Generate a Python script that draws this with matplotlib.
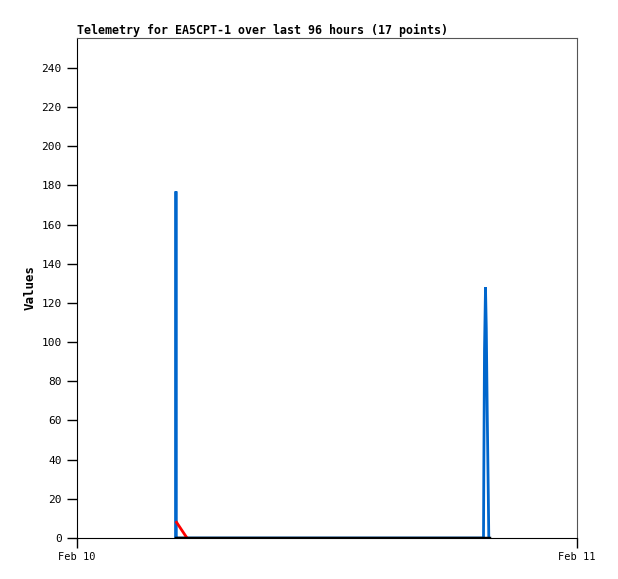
import matplotlib
matplotlib.use("Agg")
import matplotlib.pyplot as plt

# hours since Feb 10 00:00
blue_t = [4.74, 4.75, 4.76, 19.512, 19.526, 19.56, 19.608, 19.646, 19.69, 19.742, 19.766]
blue_v = [0, 177, 0, 0, 32, 96, 128, 107, 65, 22, 0]
red_t = [4.78, 5.28]
red_v = [8, 0]
black_t = [4.75, 19.77]
black_v = [0, 0]
xtick_pos = [0, 24]
xtick_labels = ["Feb 10", "Feb 11"]
ytick_vals = [0, 20, 40, 60, 80, 100, 120, 140, 160, 180, 200, 220, 240]

plt.rcParams['font.family'] = ['DejaVu Sans Mono']
fig = plt.figure(figsize=(6.18, 5.79), dpi=100)
ax = fig.add_axes([77/618, 41/579, 500/618, 500/579])
ax.plot(blue_t, blue_v, color='#0066cc', lw=2, solid_joinstyle='miter')
ax.plot(red_t, red_v, color='#ff0000', lw=2)
ax.plot(black_t, black_v, color='#000000', lw=2.5)
ax.set_xlim(0, 24)
ax.set_ylim(0, 255.3)
ax.set_xticks(xtick_pos)
ax.set_xticklabels(xtick_labels, fontsize=7.5)
ax.set_yticks(ytick_vals)
ax.set_yticklabels([str(v) for v in ytick_vals], fontsize=8)
ax.tick_params(axis='y', length=7, width=1, pad=4, color='black')
ax.tick_params(axis='x', length=7, width=1, pad=3, color='black')
for s in ['left', 'bottom']:
    ax.spines[s].set_color('black')
for s in ['top', 'right']:
    ax.spines[s].set_color('#555555')
ax.set_ylabel("Values", fontsize=9, fontweight='bold')
ax.yaxis.set_label_coords(-0.08, 0.5)
ax.set_title("Telemetry for EA5CPT-1 over last 96 hours (17 points)", loc='left',
             fontsize=8.4, fontweight='bold', pad=3)
fig.savefig("out.png", dpi=100)
